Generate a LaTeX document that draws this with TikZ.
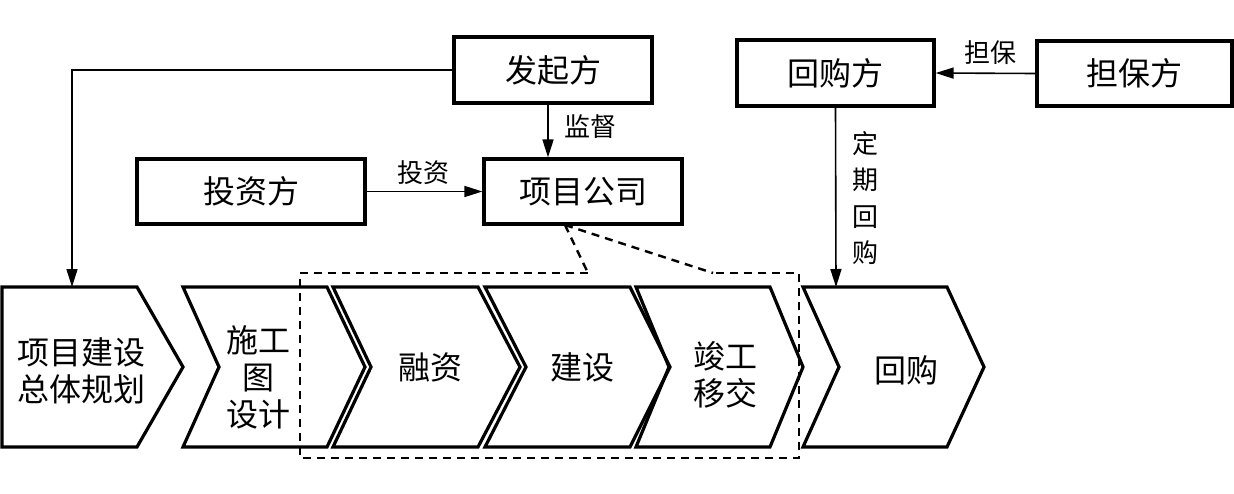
\documentclass[tikz,border=0pt]{standalone}
\usepackage{fontspec}
\setmainfont{Noto Sans CJK SC}
\usetikzlibrary{arrows.meta}
\tikzset{
  box/.style={draw,line width=3.2pt,inner sep=0pt,font=\fontsize{32}{36}\selectfont},
  chev/.style={draw,line width=3.2pt,line join=miter},
  ctext/.style={font=\fontsize{32}{37}\selectfont,align=center,inner sep=0pt},
  lbl/.style={font=\fontsize{26}{36.5}\selectfont,inner sep=0pt,align=center},
  arr/.style={line width=1.6pt,-{Triangle[length=18pt,width=11pt]}},
  dsh/.style={line width=2.4pt,dash pattern=on 8pt off 6pt}
}
\begin{document}
\begin{tikzpicture}[x=1pt,y=-1pt]
\useasboundingbox (0,0) rectangle (1234,493);
% boxes
\node[box,minimum width=198pt,minimum height=66pt] (fq) at (553,70) {发起方};
\node[box,minimum width=198pt,minimum height=65pt] (pc) at (583,191.5) {项目公司};
\node[box,minimum width=228pt,minimum height=65pt] (tz) at (251,191.5) {投资方};
\node[box,minimum width=197pt,minimum height=66pt] (hg) at (835.5,73) {回购方};
\node[box,minimum width=195pt,minimum height=65pt] (db) at (1134.5,73.5) {担保方};
% chevrons
\draw[chev] (2,287) -- (137,287) -- (183,367) -- (137,447) -- (2,447) -- cycle;
\draw[chev] (183,287) -- (327,287) -- (365,367) -- (327,447) -- (183,447) -- (219,367) -- cycle;
\draw[chev] (333,287) -- (478,287) -- (520,367) -- (478,447) -- (333,447) -- (371,367) -- cycle;
\draw[chev] (485,287) -- (630,287) -- (670,367) -- (630,447) -- (485,447) -- (526,367) -- cycle;
\draw[chev] (636,287) -- (770,287) -- (803,367) -- (770,447) -- (636,447) -- (669,367) -- cycle;
\draw[chev] (803,287) -- (947,287) -- (984,367) -- (947,447) -- (803,447) -- (839,367) -- cycle;
% chevron texts
\node[ctext] (t1) at (81,371) {项目建设\\总体规划};
\node[ctext] (t2) at (258,377) {施工\\图\\设计};
\node[ctext] (t3) at (430,367) {融资};
\node[ctext] (t4) at (582,367) {建设};
\node[ctext] (t5) at (725,375) {竣工\\移交};
\node[ctext] (t6) at (906,370) {回购};
% coordinates
\coordinate (c1top) at (72,287);
\coordinate (c6top) at (836,287);
\coordinate (jd) at (548,0);
\coordinate (pcb) at (565,225);
\coordinate (da) at (588,273);
\coordinate (db2) at (713,273);
% arrows
\draw[arr] (fq.west) -| (c1top);
\draw[arr] (fq.south -| jd) -- (pc.north -| jd);
\draw[arr] (tz.east) -- (pc.west);
\draw[arr] (db.west) -- (hg.east);
\draw[arr] (hg.south) -- (c6top);
% labels
\node[lbl] (l1) at (590,127) {监督};
\node[lbl] (l2) at (423,173) {投资};
\node[lbl] (l3) at (990,53) {担保};
\node[lbl] (l4) at (865,198) {定\\期\\回\\购};
% dashed
\draw[dsh] (da) -- (300,273) -- (300,458) -- (799,458) -- (799,273) -- (db2);
\draw[dsh] (pcb) -- (da);
\draw[dsh] (pcb) -- (db2);
\end{tikzpicture}
\end{document}
